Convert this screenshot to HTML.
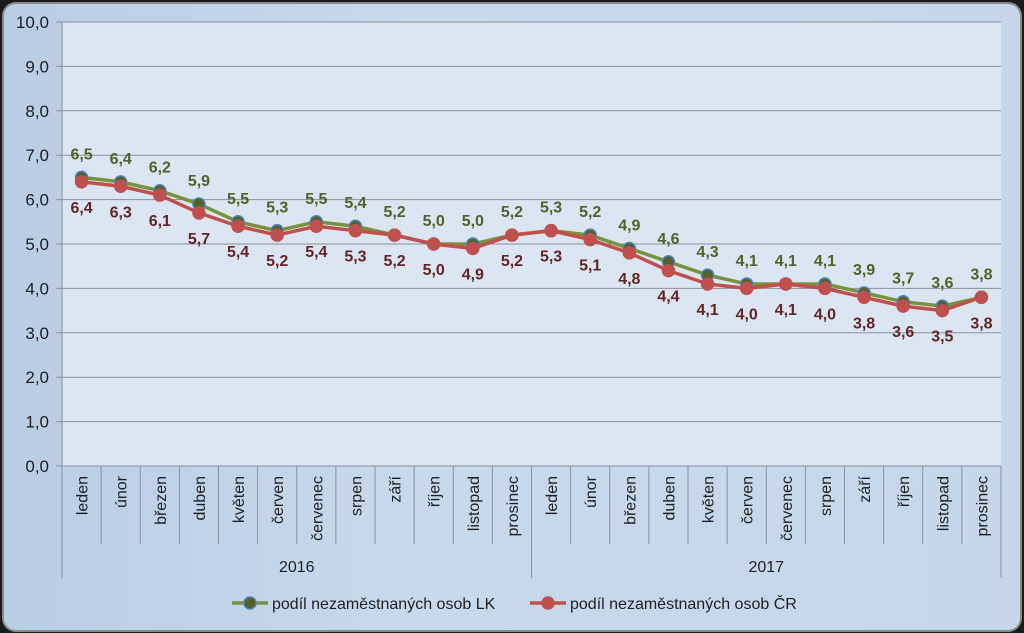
<!DOCTYPE html>
<html><head><meta charset="utf-8"><style>
html,body{margin:0;padding:0;background:#222;}
#wrap{position:relative;width:1024px;height:633px;overflow:hidden;background:#1a1a1a;}
#card{position:absolute;left:2px;top:2px;width:1016px;height:626px;border-radius:14px;border:2px solid #8a8a8a;background:linear-gradient(90deg,#b9cde4,#c9d9ec 40%,#c6d7eb);}
svg{position:absolute;left:0;top:0;}
text{font-family:"Liberation Sans",sans-serif;}
</style></head><body>
<div id="wrap">
<div id="card"></div>
<svg id="chart" width="1024" height="633"></svg>
</div>
<script>
const months=["leden","únor","březen","duben","květen","červen","červenec","srpen","září","říjen","listopad","prosinec"];
const years=["2016","2017"];
const seriesLK=[6.5,6.4,6.2,5.9,5.5,5.3,5.5,5.4,5.2,5.0,5.0,5.2,5.3,5.2,4.9,4.6,4.3,4.1,4.1,4.1,3.9,3.7,3.6,3.8];
const seriesCR=[6.4,6.3,6.1,5.7,5.4,5.2,5.4,5.3,5.2,5.0,4.9,5.2,5.3,5.1,4.8,4.4,4.1,4.0,4.1,4.0,3.8,3.6,3.5,3.8];
const yTicks=[0,1,2,3,4,5,6,7,8,9,10];
const legendLabels=["podíl nezaměstnaných osob LK","podíl nezaměstnaných osob ČR"];

const svg=document.getElementById('chart');
const NS='http://www.w3.org/2000/svg';
const L=62,R=1001,T=22,B=466;
const n=seriesLK.length, cw=(R-L)/n;
const x=i=>L+cw*(i+0.5);
const y=v=>B-(v/10)*(B-T);
function el(t,a,p){const e=document.createElementNS(NS,t);for(const k in a)e.setAttribute(k,a[k]);(p||svg).appendChild(e);return e;}
const fmt=v=>v.toFixed(1).replace('.',',');

const plot=el('rect',{x:L,y:T,width:R-L,height:B-T,fill:'#dce6f2'});


yTicks.forEach(v=>{
  const g=el('line',{x1:L-6,x2:R,y1:y(v),y2:y(v),stroke:'#8a9099','stroke-width':1});
  
  
  const t=el('text',{x:L-13,y:y(v)+6,'text-anchor':'end','font-size':17,fill:'#1f1f1f'});
  t.textContent=fmt(v);
  
  
});
el('line',{x1:L,x2:L,y1:T,y2:578,stroke:'#8a9099'});
for(let i=1;i<=n;i++){
  const big=(i%12===0);
  el('line',{x1:L+cw*i,x2:L+cw*i,y1:B,y2:big?578:544,stroke:'#8a9099'});
}
for(let i=0;i<n;i++){
  const t=el('text',{transform:`translate(${x(i)+6},${B+10}) rotate(-90)`,'text-anchor':'end','font-size':16,fill:'#1f1f1f'});
  t.textContent=months[i%12];
  
  
}
years.forEach((yr,k)=>{
  const t=el('text',{x:L+cw*(12*k+6),y:572,'text-anchor':'middle','font-size':16,fill:'#1f1f1f'});
  t.textContent=yr;
  
  
});
function series(data,line,mfill,mstroke,lab,above,name){
  const p=el('polyline',{points:data.map((v,i)=>x(i)+','+y(v)).join(' '),fill:'none',stroke:line,'stroke-width':3.5});
  
  
  data.forEach((v,i)=>{
    const c=el('circle',{cx:x(i),cy:y(v),r:6,fill:mfill,stroke:mstroke,'stroke-width':1.5});
    
    
    const t=el('text',{x:x(i),y:above?y(v)-18:y(v)+31,'text-anchor':'middle','font-size':16,'font-weight':'bold',fill:lab});
    t.textContent=fmt(v);
    
    
  });
}
series(seriesLK,'#77933c','#4f6228','#4f81bd','#4f6228',true,'lk');
series(seriesCR,'#c0504d','#c0504d','#c0504d','#632423',false,'cr');
[[232,'#77933c','#4f6228','#4f81bd'],[530,'#c0504d','#c0504d','#c0504d']].forEach((d,k)=>{
  const g=el('g',{});
  
  
  el('line',{x1:d[0],x2:d[0]+36,y1:603,y2:603,stroke:d[1],'stroke-width':3.5},g);
  el('circle',{cx:d[0]+18,cy:603,r:6,fill:d[2],stroke:d[3],'stroke-width':1.5},g);
  const t=el('text',{x:d[0]+40,y:609,'font-size':16,fill:'#1f1f1f'},g);
  t.textContent=legendLabels[k];
});
</script>
</body></html>
